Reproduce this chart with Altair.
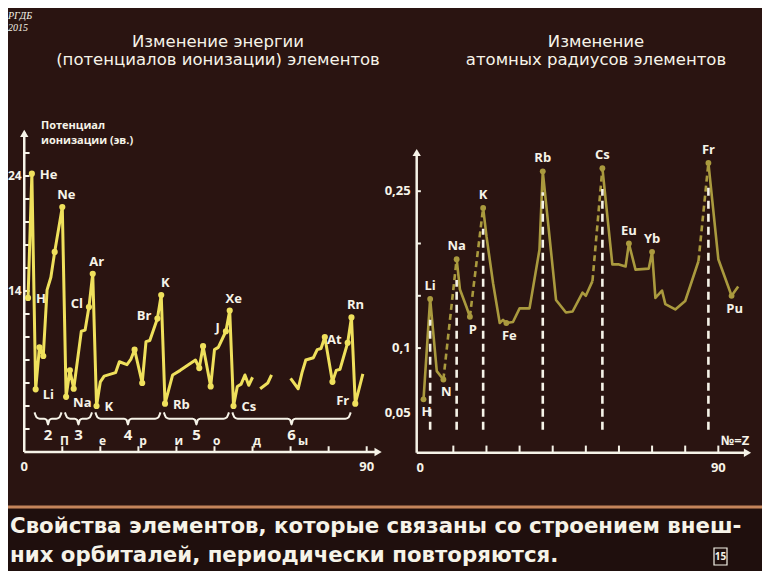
import altair as alt
import pandas as pd

# ----------------------------------------------------------------- data
# left panel: ionization potential, eV (vertices of the drawn curve)
ie_z = [1, 2, 3, 4, 5, 6, 7, 8, 10,
        11, 12, 13, 15, 16, 17, 18,
        19, 20, 21, 24, 25, 27, 28, 29, 31, 32, 33, 35, 36,
        37, 39, 41, 45, 46, 47, 49, 50, 51, 53, 54,
        55, 56, 57, 58, 59, 60,
        62, 64, 65,
        70, 72, 73, 74, 76, 77, 78, 79, 81, 82, 83, 85, 86, 87, 89]
ie_ev = [13.4, 24.2, 5.45, 9.1, 8.35, 14.1, 15.2, 17.4, 21.3,
         4.8, 7.1, 5.5, 10.5, 10.6, 12.6, 15.5,
         4.0, 6.1, 6.6, 6.9, 7.85, 7.6, 8.05, 8.9, 6.0, 9.6, 9.7, 11.6, 13.65,
         4.2, 6.7, 7.1, 8.0, 7.3, 9.2, 5.7, 8.9, 9.1, 10.5, 12.3,
         4.0, 5.7, 5.9, 6.7, 5.8, 6.5,
         5.5, 6.0, 6.7,
         6.4, 5.5, 6.9, 8.0, 8.2, 8.9, 9.0, 10.0, 6.1, 7.1, 7.2, 9.5, 11.7, 4.2, 6.8]
ie_stroke_starts = [62, 70]          # the curve is broken before these Z
ie_dots = [1, 2, 3, 4, 5, 8, 10, 11, 12, 13, 17, 18, 19, 29, 31, 35, 36, 37,
           46, 47, 49, 53, 54, 55, 79, 81, 85, 86, 87]
ie_lab_right = {1: "H", 2: "He", 19: "K", 37: "Rb", 55: "Cs"}
ie_lab_below = {3: "Li", 11: "Na"}
ie_lab_above = {10: "Ne", 18: "Ar", 36: "K", 54: "Xe", 86: "Rn"}
ie_lab_left = {17: "Cl", 35: "Br", 53: "J", 85: "At", 87: "Fr"}

period_num = ["2", "3", "4", "5", "6"]
period_first = [3, 11, 19, 37, 55]
period_last = [10, 18, 36, 54, 86]
period_word = ["П", "е", "р", "и", "о", "д", "ы"]
period_word_z = [10.6, 20.6, 31.2, 40.6, 50.6, 61.2, 73.3]
ie_xticks = [10, 20, 30, 40, 50, 60, 70, 80, 90]
ie_yticks = [2, 4, 6, 8, 10, 12, 14, 16, 18, 20, 22, 24, 26]
ie_ylabels = [14, 24]

# right panel: atomic radius, nm (vertices of the drawn curve)
rad_z = [1, 3, 5, 7, 11, 12, 14, 15, 19, 20, 22, 24, 25, 26, 28, 30, 33, 36,
         37, 41, 44, 46, 49, 50, 52, 55, 58, 60, 62, 63, 65, 69, 70, 71, 73, 74,
         77, 80, 84, 87, 90, 94, 96]
rad_nm = [0.051, 0.147, 0.078, 0.070, 0.185, 0.156, 0.139, 0.130, 0.234, 0.207,
          0.162, 0.124, 0.127, 0.124, 0.125, 0.138, 0.138, 0.194,
          0.269, 0.146, 0.134, 0.135, 0.153, 0.150, 0.164, 0.272, 0.180, 0.180,
          0.178, 0.200, 0.175, 0.176, 0.192, 0.148, 0.155, 0.142,
          0.137, 0.145, 0.183, 0.277, 0.185, 0.150, 0.159]
rad_bridges = [(7, 11), (15, 19), (52, 55), (84, 87)]   # dashed parts
rad_peaks = [3, 11, 19, 37, 55, 87]
rad_dots = [1, 3, 7, 11, 15, 19, 26, 37, 55, 63, 70, 87, 94]
rad_lab_above = {3: "Li", 11: "Na", 19: "K", 37: "Rb", 55: "Cs", 63: "Eu", 70: "Yb", 87: "Fr"}
rad_lab_below = {1: "H", 7: "N", 15: "P", 26: "Fe", 94: "Pu"}
rad_xticks = [10, 20, 30, 40, 50, 60, 70, 80, 90]
rad_yticks = [0.1, 0.15, 0.2, 0.25]
rad_ylabels = [0.1, 0.25]
rad_ylabel_low = 0.05

title_left = ["Изменение энергии", "(потенциалов ионизации) элементов"]
title_right = ["Изменение", "атомных радиусов элементов"]
ylabel_left = ["Потенциал", "ионизации (эв.)"]
caption = ["Свойства элементов, которые связаны со строением внеш-",
           "них орбиталей, периодически повторяются."]

# ----------------------------------------------------------------- styles
W, H = 754, 563
BG = "#2a1411"
BG_LOW = "#1f0f0d"
YEL = "#efe05c"
OLIVE = "#aa9a3e"
WHITE = "#f6f3e8"
FONT = "Open Sans"
TFONT = "DejaVu Sans"


def P(v):
    """page pixel -> chart pixel"""
    return v - 8


LX = alt.Scale(domain=[0, 93.5], range=[P(24.25), P(380)], nice=False, zero=False)
LY = alt.Scale(domain=[0, 28.2], range=[P(452), P(452 - 28.2 * 11.5)], nice=False, zero=False)
RX = alt.Scale(domain=[-1.06, 99.5], range=[P(416.7), P(749.8)], nice=False, zero=False)
RY = alt.Scale(domain=[0, 0.294], range=[P(452.7), P(452.7 - 0.294 * 1046)], nice=False, zero=False)


def X(f, s):
    return alt.X(f, type="quantitative", scale=s, axis=None)


def Y(f, s):
    return alt.Y(f, type="quantitative", scale=s, axis=None)


dummy = pd.DataFrame({"a": [0]})
layers = []

# background band + orange rule
layers.append(alt.Chart(dummy).mark_rect(color=BG_LOW).encode(
    x=alt.value(0), x2=alt.value(W), y=alt.value(P(509)), y2=alt.value(H)))
layers.append(alt.Chart(dummy).mark_rule(color="#c4845a", strokeWidth=3).encode(
    x=alt.value(0), x2=alt.value(W), y=alt.value(P(507))))

# ---------------- left panel
ie_df = pd.DataFrame({"z": ie_z, "ev": ie_ev})
stroke = []
s = 0
for z in ie_z:
    if z in ie_stroke_starts:
        s += 1
    stroke.append(s)
ie_df["stroke"] = stroke

axL_v = pd.DataFrame({"x": [0], "y": [0], "y2": [27.8]})
axL_h = pd.DataFrame({"x": [0], "x2": [93.0], "y": [0]})
layers.append(alt.Chart(axL_v).mark_rule(color=WHITE, strokeWidth=2.5).encode(
    x=X("x", LX), y=Y("y", LY), y2="y2"))
layers.append(alt.Chart(axL_h).mark_rule(color=WHITE, strokeWidth=2.5).encode(
    x=X("x", LX), x2="x2", y=Y("y", LY)))
layers.append(alt.Chart(pd.DataFrame({"x": [0], "y": [27.7]})).mark_point(
    shape="triangle-up", filled=True, color=WHITE, size=70, opacity=1).encode(
    x=X("x", LX), y=Y("y", LY)))
layers.append(alt.Chart(pd.DataFrame({"x": [93.0], "y": [0]})).mark_point(
    shape="triangle-right", filled=True, color=WHITE, size=70, opacity=1).encode(
    x=X("x", LX), y=Y("y", LY)))
layers.append(alt.Chart(pd.DataFrame({"x": ie_xticks, "y": 0.0, "y2": 0.5})).mark_rule(
    color=WHITE, strokeWidth=2).encode(x=X("x", LX), y=Y("y", LY), y2="y2"))
layers.append(alt.Chart(pd.DataFrame({"y": ie_yticks, "x": 0.0, "x2": 1.4})).mark_rule(
    color=WHITE, strokeWidth=2).encode(x=X("x", LX), x2="x2", y=Y("y", LY)))

layers.append(alt.Chart(ie_df).mark_line(color=YEL, strokeWidth=3, strokeJoin="round").encode(
    x=X("z", LX), y=Y("ev", LY), detail="stroke:N", order="z:Q"))
layers.append(alt.Chart(ie_df[ie_df.z.isin(ie_dots)]).mark_circle(color=YEL, size=38, opacity=1).encode(
    x=X("z", LX), y=Y("ev", LY)))


def lab_df(d, df, col):
    vals = dict(zip(df.z, df[col]))
    return pd.DataFrame({"z": list(d.keys()), "v": [vals[k] for k in d], "t": list(d.values())})


lab_style = dict(color=WHITE, fontSize=13, font=FONT, fontWeight="bold")
for d, kw in [(ie_lab_right, dict(align="left", dx=8, dy=1)),
              (ie_lab_below, dict(align="left", dx=7, dy=6)),
              (ie_lab_above, dict(align="center", dx=4, dy=-12)),
              (ie_lab_left, dict(align="right", dx=-6, dy=-3))]:
    layers.append(alt.Chart(lab_df(d, ie_df, "ev")).mark_text(baseline="middle", **kw, **lab_style).encode(
        x=X("z", LX), y=Y("v", LY), text="t:N"))

# period braces
rows = []
for p, (a, b) in enumerate(zip(period_first, period_last)):
    a0, b0 = a - 0.3, b - 0.2
    m = (a0 + b0) / 2
    pts = [(a0, 3.45), (a0 + 0.6, 3.0), (a0 + 1.4, 2.9), (m - 1.0, 2.9), (m - 0.35, 2.78),
           (m, 2.4), (m + 0.35, 2.78), (m + 1.0, 2.9), (b0 - 1.4, 2.9), (b0 - 0.6, 3.0), (b0, 3.45)]
    for i, (x, y) in enumerate(pts):
        rows.append({"p": p, "i": i, "x": x, "y": y})
layers.append(alt.Chart(pd.DataFrame(rows)).mark_line(color=WHITE, strokeWidth=2, interpolate="monotone").encode(
    x=X("x", LX), y=Y("y", LY), detail="p:N", order="i:Q"))
pn = pd.DataFrame({"x": [((a - 0.3) + (b - 0.2)) / 2 for a, b in zip(period_first, period_last)],
                   "y": 1.45, "t": period_num})
layers.append(alt.Chart(pn).mark_text(color=WHITE, fontSize=15, font=FONT, fontWeight="bold",
                                      baseline="middle").encode(x=X("x", LX), y=Y("y", LY), text="t:N"))
pw = pd.DataFrame({"x": period_word_z, "y": 0.95, "t": period_word})
layers.append(alt.Chart(pw).mark_text(color=WHITE, fontSize=12, font=FONT, fontWeight="bold",
                                      baseline="middle").encode(x=X("x", LX), y=Y("y", LY), text="t:N"))

# left axis numbers
layers.append(alt.Chart(pd.DataFrame({"y": ie_ylabels, "t": [str(v) for v in ie_ylabels]})).mark_text(
    color=WHITE, fontSize=12, font=FONT, fontWeight="bold", align="left", baseline="middle").encode(
    x=alt.value(0), y=Y("y", LY), text="t:N"))
layers.append(alt.Chart(pd.DataFrame({"x": [0, 90], "t": ["0", "90"]})).mark_text(
    color=WHITE, fontSize=13, font=FONT, fontWeight="bold", baseline="middle").encode(
    x=X("x", LX), y=alt.value(P(467)), text="t:N"))
for i, t in enumerate(ylabel_left):
    layers.append(alt.Chart(dummy).mark_text(
        color=WHITE, fontSize=11, font=FONT, fontWeight="bold", align="left", baseline="middle").encode(
        x=alt.value(P(41)), y=alt.value(P(126 + 15 * i)), text=alt.value(t)))

# ---------------- right panel
rad_df = pd.DataFrame({"z": rad_z, "r": rad_nm})
bridge_ends = [b for _, b in rad_bridges]
seg = []
s = 0
for z in rad_z:
    if z in bridge_ends:
        s += 1
    seg.append(s)
rad_df["seg"] = seg
rmap = dict(zip(rad_z, rad_nm))

axR_v = pd.DataFrame({"x": [-1.06], "y": [0], "y2": [0.287]})
axR_h = pd.DataFrame({"x": [-1.06], "x2": [98.8], "y": [0]})
layers.append(alt.Chart(axR_v).mark_rule(color=WHITE, strokeWidth=2.5).encode(
    x=X("x", RX), y=Y("y", RY), y2="y2"))
layers.append(alt.Chart(axR_h).mark_rule(color=WHITE, strokeWidth=2.5).encode(
    x=X("x", RX), x2="x2", y=Y("y", RY)))
layers.append(alt.Chart(pd.DataFrame({"x": [-1.06], "y": [0.287]})).mark_point(
    shape="triangle-up", filled=True, color=WHITE, size=70, opacity=1).encode(
    x=X("x", RX), y=Y("y", RY)))
layers.append(alt.Chart(pd.DataFrame({"x": [98.8], "y": [0]})).mark_point(
    shape="triangle-right", filled=True, color=WHITE, size=70, opacity=1).encode(
    x=X("x", RX), y=Y("y", RY)))
layers.append(alt.Chart(pd.DataFrame({"x": rad_xticks, "y": 0.0, "y2": 0.0068})).mark_rule(
    color=WHITE, strokeWidth=2).encode(x=X("x", RX), y=Y("y", RY), y2="y2"))
layers.append(alt.Chart(pd.DataFrame({"y": rad_yticks, "x": -1.06, "x2": 0.2})).mark_rule(
    color=WHITE, strokeWidth=2).encode(x=X("x", RX), x2="x2", y=Y("y", RY)))

layers.append(alt.Chart(rad_df).mark_line(color=OLIVE, strokeWidth=2.6, strokeJoin="round").encode(
    x=X("z", RX), y=Y("r", RY), detail="seg:N", order="z:Q"))
br_rows = []
for k, (a, b) in enumerate(rad_bridges):
    br_rows.append({"b": k, "z": a, "r": rmap[a]})
    br_rows.append({"b": k, "z": b, "r": rmap[b]})
layers.append(alt.Chart(pd.DataFrame(br_rows)).mark_line(color=OLIVE, strokeWidth=2.6, strokeDash=[6, 4]).encode(
    x=X("z", RX), y=Y("r", RY), detail="b:N", order="z:Q"))
pk = pd.DataFrame({"z": rad_peaks, "y": 0.022, "y2": [rmap[z] - 0.02 for z in rad_peaks]})
layers.append(alt.Chart(pk).mark_rule(color=WHITE, strokeWidth=2.6, strokeDash=[8, 5]).encode(
    x=X("z", RX), y=Y("y", RY), y2="y2"))
layers.append(alt.Chart(rad_df[rad_df.z.isin(rad_dots)]).mark_circle(color=OLIVE, size=34, opacity=1).encode(
    x=X("z", RX), y=Y("r", RY)))
for d, kw in [(rad_lab_above, dict(align="center", dx=0, dy=-13)),
              (rad_lab_below, dict(align="center", dx=3, dy=13))]:
    layers.append(alt.Chart(lab_df(d, rad_df, "r")).mark_text(baseline="middle", **kw, **lab_style).encode(
        x=X("z", RX), y=Y("v", RY), text="t:N"))

rnum = dict(color=WHITE, fontSize=13, font=FONT, fontWeight="bold", align="right", baseline="middle", dx=-6)
layers.append(alt.Chart(pd.DataFrame({"y": rad_ylabels, "x": -1.06})).transform_calculate(
    t="replace(toString(datum.y), '.', ',')").mark_text(**rnum).encode(
    x=X("x", RX), y=Y("y", RY), text="t:N"))
layers.append(alt.Chart(pd.DataFrame({"y": [rad_ylabel_low], "x": -1.06})).transform_calculate(
    t="replace(toString(datum.y), '.', ',')").mark_text(dy=13, **rnum).encode(
    x=X("x", RX), y=Y("y", RY), text="t:N"))
layers.append(alt.Chart(pd.DataFrame({"x": [0, 90], "t": ["0", "90"]})).mark_text(
    color=WHITE, fontSize=13, font=FONT, fontWeight="bold", baseline="middle").encode(
    x=X("x", RX), y=alt.value(P(468)), text="t:N"))
layers.append(alt.Chart(dummy).mark_text(
    color=WHITE, fontSize=13, font=FONT, fontWeight="bold", baseline="middle").encode(
    x=alt.value(P(735)), y=alt.value(P(441)), text=alt.value("№=Z")))

# ---------------- titles, caption, marks
for i, t in enumerate(title_left):
    layers.append(alt.Chart(dummy).mark_text(color=WHITE, fontSize=16.5, font=TFONT,
                                             baseline="middle").encode(
        x=alt.value(P(218)), y=alt.value(P(42 + 18 * i)), text=alt.value(t)))
for i, t in enumerate(title_right):
    layers.append(alt.Chart(dummy).mark_text(color=WHITE, fontSize=16.5, font=TFONT,
                                             baseline="middle").encode(
        x=alt.value(P(596)), y=alt.value(P(42 + 18 * i)), text=alt.value(t)))
for i, t in enumerate(caption):
    layers.append(alt.Chart(dummy).mark_text(color=WHITE, fontSize=21.3, font=TFONT, fontWeight="bold",
                                             align="left", baseline="middle").encode(
        x=alt.value(P(10)), y=alt.value(P(527 + 29 * i)), text=alt.value(t)))
layers.append(alt.Chart(dummy).mark_rect(fill=None, stroke=WHITE, strokeWidth=1.2).encode(
    x=alt.value(P(714)), x2=alt.value(P(727)), y=alt.value(P(548)), y2=alt.value(P(565))))
layers.append(alt.Chart(dummy).mark_text(color=WHITE, fontSize=10, font=FONT, fontWeight="bold",
                                         baseline="middle").encode(
    x=alt.value(P(720.5)), y=alt.value(P(557)), text=alt.value("15")))
for i, t in enumerate(["РГДБ", "2015"]):
    layers.append(alt.Chart(dummy).mark_text(color=WHITE, fontSize=10, font="Liberation Serif",
                                             fontStyle="italic", align="left", baseline="middle").encode(
        x=alt.value(0), y=alt.value(8 + 12 * i), text=alt.value(t)))

chart = alt.layer(*layers).resolve_scale(x="independent", y="independent").properties(
    width=W, height=H, padding=0, autosize="none", background=BG
).configure_view(stroke=None)

chart.save("out.html", embed_options={"renderer": "svg", "actions": False})
